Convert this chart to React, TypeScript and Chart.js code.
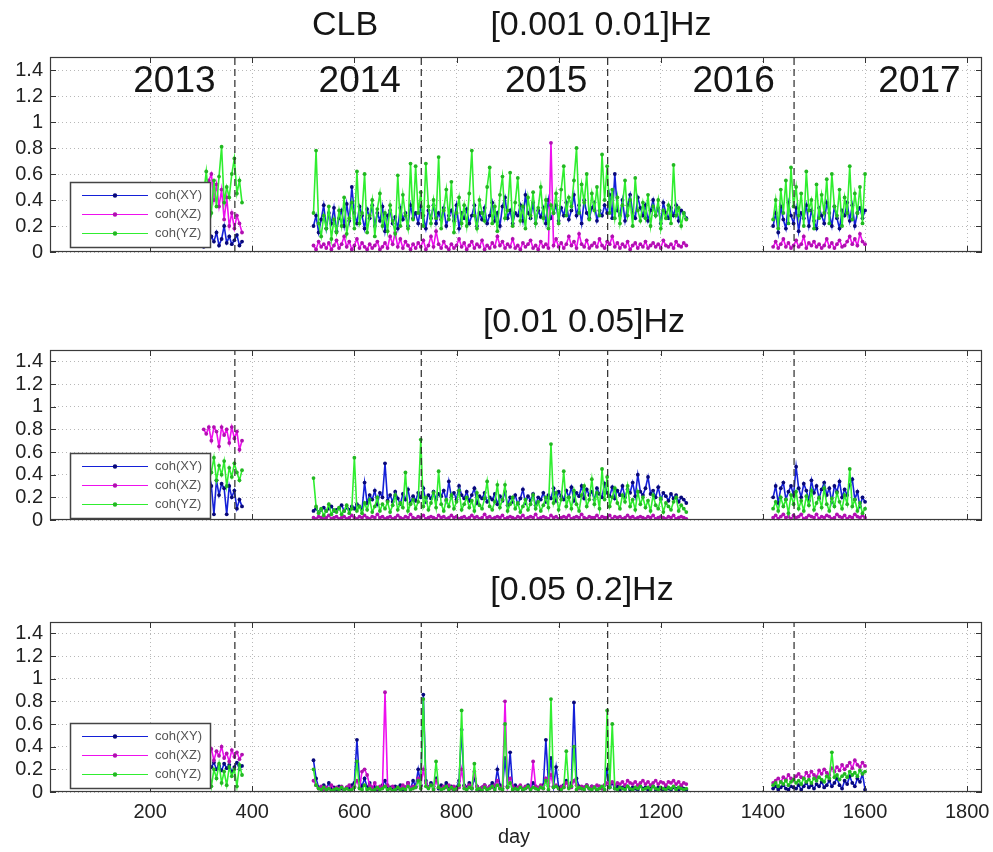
import React, { useEffect, useRef } from "react";
import { Chart, registerables } from "chart.js";
Chart.register(...registerables);

// ---------- axes ----------
const X_MIN = 4;
const X_MAX = 1829;
const Y_MIN = 0;
const Y_MAX = 1.5;
const xTicks = [200, 400, 600, 800, 1000, 1200, 1400, 1600, 1800];
const yTicks = [0, 0.2, 0.4, 0.6, 0.8, 1, 1.2, 1.4];
const yTickLabels = ["0", "0.2", "0.4", "0.6", "0.8", "1", "1.2", "1.4"];
const yearBoundaries = [366, 731, 1096, 1461];
const yearLabels = ["2013", "2014", "2015", "2016", "2017"];
const yearLabelDays = [167, 530, 895, 1262, 1626];
const seriesNames = ["coh(XY)", "coh(XZ)", "coh(YZ)"];
const panelTitles = [["CLB", "[0.001 0.01]Hz"], ["[0.01 0.05]Hz"], ["[0.05 0.2]Hz"]];
const xAxisLabel = "day";

// ---------- days of the three recording periods ----------
const daysA = [305, 310, 315, 320, 325, 330, 335, 340, 345, 350, 355, 360, 365, 370, 375, 380];
const daysB = [
  520, 525, 530, 535, 540, 545, 550, 555, 560, 565,
  570, 575, 580, 585, 590, 595, 600, 605, 610, 615,
  620, 625, 630, 635, 640, 645, 650, 655, 660, 665,
  670, 675, 680, 685, 690, 695, 700, 705, 710, 715,
  720, 725, 730, 735, 740, 745, 750, 755, 760, 765,
  770, 775, 780, 785, 790, 795, 800, 805, 810, 815,
  820, 825, 830, 835, 840, 845, 850, 855, 860, 865,
  870, 875, 880, 885, 890, 895, 900, 905, 910, 915,
  920, 925, 930, 935, 940, 945, 950, 955, 960, 965,
  970, 975, 980, 985, 990, 995, 1000, 1005, 1010, 1015,
  1020, 1025, 1030, 1035, 1040, 1045, 1050, 1055, 1060, 1065,
  1070, 1075, 1080, 1085, 1090, 1095, 1100, 1105, 1110, 1115,
  1120, 1125, 1130, 1135, 1140, 1145, 1150, 1155, 1160, 1165,
  1170, 1175, 1180, 1185, 1190, 1195, 1200, 1205, 1210, 1215,
  1220, 1225, 1230, 1235, 1240, 1245, 1250,
];
const daysC = [
  1420, 1425, 1430, 1435, 1440, 1445, 1450, 1455, 1460, 1465,
  1470, 1475, 1480, 1485, 1490, 1495, 1500, 1505, 1510, 1515,
  1520, 1525, 1530, 1535, 1540, 1545, 1550, 1555, 1560, 1565,
  1570, 1575, 1580, 1585, 1590, 1595, 1600,
];

// ---------- panel 1: [0.001 0.01] Hz ----------
const p1XY_A = [0.04, 0.10, 0.06, 0.12, 0.08, 0.15, 0.05, 0.10, 0.20, 0.07, 0.12, 0.06, 0.09, 0.13, 0.05, 0.08];
const p1XZ_A = [0.30, 0.45, 0.55, 0.60, 0.40, 0.52, 0.35, 0.48, 0.25, 0.42, 0.20, 0.30, 0.18, 0.28, 0.22, 0.15];
const p1YZ_A = [0.45, 0.62, 0.40, 0.30, 0.55, 0.35, 0.58, 0.81, 0.38, 0.50, 0.42, 0.60, 0.72, 0.45, 0.55, 0.38];
const p1XY_B = [
  0.20, 0.28, 0.15, 0.25, 0.36, 0.18, 0.30, 0.22, 0.34, 0.16,
  0.26, 0.32, 0.20, 0.37, 0.24, 0.50, 0.30, 0.22, 0.35, 0.28,
  0.18, 0.33, 0.26, 0.36, 0.20, 0.30, 0.24, 0.35, 0.16, 0.28,
  0.32, 0.22, 0.27, 0.18, 0.34, 0.25, 0.30, 0.20, 0.36, 0.26,
  0.30, 0.22, 0.35, 0.28, 0.18, 0.32, 0.26, 0.36, 0.22, 0.30,
  0.25, 0.34, 0.20, 0.28, 0.32, 0.24, 0.36, 0.18, 0.30, 0.26,
  0.33, 0.22, 0.28, 0.36, 0.20, 0.30, 0.25, 0.34, 0.22, 0.28,
  0.38, 0.24, 0.30, 0.20, 0.35, 0.42, 0.26, 0.32, 0.22, 0.30,
  0.28, 0.36, 0.24, 0.44, 0.30, 0.26, 0.38, 0.22, 0.32, 0.27,
  0.34, 0.22, 0.40, 0.26, 0.30, 0.36, 0.24, 0.34, 0.28, 0.38,
  0.25, 0.32, 0.44, 0.28, 0.36, 0.22, 0.40, 0.30, 0.26, 0.34,
  0.38, 0.24, 0.32, 0.28, 0.36, 0.30, 0.44, 0.26, 0.60, 0.32,
  0.28, 0.40, 0.24, 0.36, 0.44, 0.30, 0.26, 0.42, 0.34, 0.28,
  0.36, 0.24, 0.32, 0.40, 0.28, 0.34, 0.22, 0.38, 0.30, 0.26,
  0.34, 0.28, 0.36, 0.24, 0.32, 0.30, 0.26,
];
const p1XZ_B = [
  0.05, 0.02, 0.08, 0.04, 0.06, 0.03, 0.07, 0.02, 0.05, 0.09,
  0.03, 0.06, 0.12, 0.04, 0.08, 0.02, 0.05, 0.10, 0.03, 0.07,
  0.04, 0.02, 0.06, 0.03, 0.05, 0.08, 0.02, 0.04, 0.07, 0.03,
  0.12, 0.06, 0.15, 0.04, 0.10, 0.03, 0.08, 0.05, 0.02, 0.06,
  0.03, 0.07, 0.04, 0.09, 0.02, 0.05, 0.12, 0.04, 0.16, 0.06,
  0.03, 0.08, 0.04, 0.02, 0.06, 0.03, 0.05, 0.10, 0.04, 0.07,
  0.02, 0.05, 0.08, 0.03, 0.06, 0.04, 0.09, 0.02, 0.05, 0.03,
  0.07, 0.04, 0.12, 0.05, 0.08, 0.03, 0.06, 0.04, 0.10, 0.03,
  0.05, 0.02, 0.07, 0.04, 0.06, 0.09, 0.03, 0.05, 0.02, 0.08,
  0.04, 0.06, 0.03, 0.84, 0.05, 0.10, 0.04, 0.07, 0.03, 0.06,
  0.12, 0.05, 0.08, 0.03, 0.14, 0.06, 0.04, 0.09, 0.03, 0.05,
  0.07, 0.04, 0.10, 0.05, 0.03, 0.08, 0.06, 0.12, 0.04, 0.07,
  0.03, 0.06, 0.04, 0.08, 0.02, 0.05, 0.07, 0.03, 0.06, 0.04,
  0.08, 0.03, 0.05, 0.07, 0.04, 0.06, 0.03, 0.09, 0.05, 0.04,
  0.06, 0.03, 0.08, 0.05, 0.04, 0.07, 0.05,
];
const p1YZ_B = [
  0.30, 0.78, 0.22, 0.12, 0.28, 0.18, 0.35, 0.10, 0.25, 0.15,
  0.32, 0.20, 0.42, 0.14, 0.26, 0.38, 0.18, 0.62, 0.22, 0.30,
  0.60, 0.15, 0.28, 0.40, 0.12, 0.33, 0.45, 0.20, 0.30, 0.16,
  0.36, 0.24, 0.14, 0.59, 0.20, 0.44, 0.28, 0.18, 0.68, 0.25,
  0.66, 0.30, 0.46, 0.20, 0.68, 0.35, 0.22, 0.40, 0.26, 0.73,
  0.18, 0.32, 0.48, 0.25, 0.54, 0.15, 0.30, 0.42, 0.22, 0.36,
  0.20, 0.45, 0.78, 0.28, 0.18, 0.40, 0.30, 0.24, 0.50, 0.65,
  0.22, 0.35, 0.16, 0.44, 0.58, 0.26, 0.32, 0.61, 0.20, 0.38,
  0.57, 0.24, 0.35, 0.18, 0.42, 0.28, 0.46, 0.22, 0.34, 0.50,
  0.26, 0.40, 0.18, 0.36, 0.30, 0.45, 0.22, 0.48, 0.66, 0.28,
  0.42, 0.35, 0.55, 0.80, 0.30, 0.52, 0.38, 0.60, 0.25, 0.45,
  0.32, 0.50, 0.28, 0.75, 0.40, 0.66, 0.30, 0.48, 0.26, 0.42,
  0.22, 0.36, 0.55, 0.28, 0.40, 0.20, 0.57, 0.32, 0.24, 0.38,
  0.26, 0.44, 0.20, 0.35, 0.28, 0.40, 0.18, 0.32, 0.26, 0.36,
  0.22, 0.67, 0.28, 0.34, 0.20, 0.30, 0.25,
];
const p1XY_C = [
  0.20, 0.30, 0.15, 0.35, 0.25, 0.18, 0.38, 0.28, 0.22, 0.34,
  0.16, 0.30, 0.26, 0.36, 0.20, 0.32, 0.24, 0.18, 0.34, 0.28,
  0.22, 0.38, 0.30, 0.20, 0.35, 0.26, 0.18, 0.32, 0.28, 0.38,
  0.24, 0.36, 0.20, 0.30, 0.34, 0.26, 0.32,
];
const p1XZ_C = [
  0.04, 0.08, 0.03, 0.06, 0.10, 0.04, 0.07, 0.03, 0.05, 0.09,
  0.04, 0.06, 0.12, 0.03, 0.07, 0.05, 0.08, 0.04, 0.06, 0.03,
  0.05, 0.10, 0.04, 0.07, 0.03, 0.06, 0.09, 0.04, 0.05, 0.08,
  0.12, 0.06, 0.10, 0.05, 0.14, 0.08, 0.06,
];
const p1YZ_C = [
  0.25, 0.40, 0.18, 0.48, 0.30, 0.55, 0.22, 0.65, 0.35, 0.50,
  0.28, 0.45, 0.20, 0.62, 0.32, 0.40, 0.18, 0.52, 0.26, 0.44,
  0.30, 0.56, 0.22, 0.60, 0.35, 0.28, 0.48, 0.20, 0.42, 0.30,
  0.66, 0.25, 0.45, 0.30, 0.50, 0.22, 0.60,
];

// ---------- panel 2: [0.01 0.05] Hz ----------
const p2XY_A = [0.05, 0.25, 0.18, 0.30, 0.05, 0.35, 0.22, 0.32, 0.28, 0.05, 0.30, 0.20, 0.26, 0.10, 0.18, 0.12];
const p2XZ_A = [0.80, 0.76, 0.82, 0.70, 0.82, 0.78, 0.65, 0.82, 0.75, 0.80, 0.68, 0.82, 0.72, 0.78, 0.62, 0.70];
const p2YZ_A = [0.45, 0.38, 0.50, 0.42, 0.55, 0.35, 0.48, 0.40, 0.52, 0.30, 0.46, 0.38, 0.50, 0.42, 0.35, 0.44];
const p2XY_B = [
  0.08, 0.10, 0.07, 0.09, 0.11, 0.08, 0.10, 0.12, 0.08, 0.09,
  0.10, 0.13, 0.08, 0.11, 0.09, 0.12, 0.10, 0.14, 0.12, 0.09,
  0.33, 0.15, 0.22, 0.18, 0.26, 0.14, 0.24, 0.20, 0.50, 0.17,
  0.22, 0.16, 0.25, 0.19, 0.14, 0.23, 0.18, 0.27, 0.15, 0.21,
  0.17, 0.24, 0.20, 0.28, 0.16, 0.22, 0.19, 0.25, 0.18, 0.23,
  0.21, 0.26, 0.17, 0.34, 0.20, 0.24, 0.18, 0.30, 0.22, 0.19,
  0.25, 0.17, 0.22, 0.28, 0.15, 0.21, 0.19, 0.24, 0.16, 0.20,
  0.18, 0.23, 0.14, 0.21, 0.17, 0.25, 0.13, 0.20, 0.16, 0.22,
  0.14, 0.19, 0.27, 0.15, 0.21, 0.17, 0.23, 0.13, 0.20, 0.18,
  0.24, 0.16, 0.22, 0.19, 0.28, 0.17, 0.25, 0.21, 0.18, 0.26,
  0.20, 0.29, 0.17, 0.24, 0.21, 0.30, 0.19, 0.27, 0.22, 0.25,
  0.18, 0.28, 0.23, 0.20, 0.32, 0.24, 0.21, 0.29, 0.19, 0.26,
  0.22, 0.30, 0.20, 0.27, 0.24, 0.33, 0.21, 0.40, 0.25, 0.22,
  0.28, 0.38, 0.23, 0.26, 0.20, 0.29, 0.18, 0.24, 0.21, 0.17,
  0.23, 0.19, 0.22, 0.16, 0.20, 0.18, 0.15,
];
const p2XZ_B = [
  0.02, 0.01, 0.03, 0.02, 0.01, 0.02, 0.04, 0.01, 0.02, 0.03,
  0.01, 0.02, 0.03, 0.01, 0.02, 0.04, 0.02, 0.01, 0.03, 0.02,
  0.04, 0.02, 0.01, 0.03, 0.02, 0.05, 0.02, 0.03, 0.01, 0.02,
  0.03, 0.01, 0.02, 0.04, 0.02, 0.01, 0.03, 0.02, 0.05, 0.02,
  0.01, 0.03, 0.02, 0.04, 0.01, 0.02, 0.03, 0.02, 0.01, 0.04,
  0.02, 0.03, 0.01, 0.02, 0.04, 0.02, 0.03, 0.01, 0.02, 0.03,
  0.01, 0.02, 0.04, 0.02, 0.03, 0.01, 0.02, 0.05, 0.02, 0.03,
  0.01, 0.02, 0.03, 0.02, 0.04, 0.01, 0.02, 0.03, 0.02, 0.01,
  0.03, 0.02, 0.04, 0.01, 0.02, 0.03, 0.02, 0.05, 0.01, 0.02,
  0.03, 0.02, 0.01, 0.04, 0.02, 0.03, 0.01, 0.02, 0.03, 0.02,
  0.04, 0.01, 0.02, 0.03, 0.02, 0.05, 0.02, 0.01, 0.03, 0.02,
  0.02, 0.04, 0.01, 0.03, 0.02, 0.02, 0.04, 0.01, 0.03, 0.02,
  0.03, 0.01, 0.02, 0.04, 0.02, 0.03, 0.01, 0.02, 0.03, 0.02,
  0.01, 0.03, 0.02, 0.04, 0.01, 0.02, 0.03, 0.02, 0.01, 0.03,
  0.02, 0.04, 0.01, 0.02, 0.03, 0.02, 0.01,
];
const p2YZ_B = [
  0.37, 0.12, 0.06, 0.10, 0.04, 0.08, 0.14, 0.05, 0.09, 0.07,
  0.11, 0.05, 0.08, 0.13, 0.06, 0.10, 0.55, 0.08, 0.12, 0.06,
  0.15, 0.09, 0.18, 0.07, 0.12, 0.20, 0.08, 0.14, 0.10, 0.16,
  0.07, 0.13, 0.22, 0.09, 0.15, 0.11, 0.42, 0.08, 0.14, 0.18,
  0.10, 0.16, 0.71, 0.12, 0.20, 0.09, 0.15, 0.24, 0.11, 0.43,
  0.14, 0.08, 0.18, 0.12, 0.22, 0.10, 0.16, 0.26, 0.09, 0.14,
  0.20, 0.11, 0.17, 0.08, 0.24, 0.13, 0.10, 0.19, 0.34, 0.12,
  0.09, 0.16, 0.31, 0.11, 0.18, 0.31, 0.08, 0.14, 0.20, 0.10,
  0.15, 0.07, 0.12, 0.18, 0.09, 0.14, 0.22, 0.10, 0.16, 0.08,
  0.13, 0.20, 0.11, 0.67, 0.15, 0.24, 0.09, 0.18, 0.43, 0.12,
  0.20, 0.10, 0.26, 0.14, 0.08, 0.22, 0.30, 0.12, 0.18, 0.36,
  0.14, 0.24, 0.10, 0.45, 0.18, 0.38, 0.12, 0.20, 0.28, 0.15,
  0.10, 0.22, 0.16, 0.30, 0.12, 0.18, 0.09, 0.25, 0.14, 0.20,
  0.11, 0.17, 0.08, 0.22, 0.13, 0.10, 0.19, 0.07, 0.15, 0.12,
  0.09, 0.16, 0.20, 0.08, 0.13, 0.10, 0.07,
];
const p2XY_C = [
  0.20, 0.30, 0.15, 0.28, 0.33, 0.18, 0.25, 0.30, 0.22, 0.47,
  0.28, 0.20, 0.32, 0.26, 0.17, 0.35, 0.24, 0.30, 0.19, 0.27,
  0.33, 0.22, 0.28, 0.16, 0.30, 0.25, 0.34, 0.20, 0.27, 0.22,
  0.31, 0.36, 0.18, 0.25, 0.12, 0.20, 0.16,
];
const p2XZ_C = [
  0.02, 0.04, 0.01, 0.03, 0.05, 0.02, 0.03, 0.01, 0.04, 0.02,
  0.03, 0.05, 0.01, 0.02, 0.04, 0.03, 0.02, 0.05, 0.01, 0.03,
  0.02, 0.04, 0.03, 0.01, 0.02, 0.05, 0.03, 0.02, 0.04, 0.01,
  0.03, 0.02, 0.05, 0.03, 0.02, 0.04, 0.02,
];
const p2YZ_C = [
  0.10, 0.16, 0.08, 0.20, 0.12, 0.18, 0.06, 0.22, 0.14, 0.25,
  0.10, 0.17, 0.08, 0.21, 0.13, 0.26, 0.09, 0.15, 0.20, 0.11,
  0.28, 0.14, 0.08, 0.19, 0.12, 0.24, 0.16, 0.10, 0.22, 0.14,
  0.45, 0.12, 0.18, 0.08, 0.15, 0.06, 0.10,
];

// ---------- panel 3: [0.05 0.2] Hz ----------
const p3XY_A = [0.20, 0.24, 0.18, 0.22, 0.26, 0.20, 0.23, 0.19, 0.25, 0.21, 0.24, 0.18, 0.22, 0.26, 0.20, 0.23];
const p3XZ_A = [0.42, 0.35, 0.30, 0.38, 0.28, 0.36, 0.32, 0.40, 0.30, 0.34, 0.27, 0.37, 0.31, 0.35, 0.29, 0.33];
const p3YZ_A = [0.18, 0.10, 0.22, 0.05, 0.20, 0.12, 0.25, 0.08, 0.18, 0.06, 0.22, 0.14, 0.20, 0.05, 0.24, 0.15];
const p3XY_B = [
  0.28, 0.12, 0.04, 0.03, 0.06, 0.02, 0.08, 0.03, 0.04, 0.02,
  0.05, 0.03, 0.02, 0.04, 0.03, 0.06, 0.08, 0.46, 0.10, 0.05,
  0.12, 0.04, 0.08, 0.03, 0.05, 0.02, 0.04, 0.06, 0.10, 0.03,
  0.04, 0.02, 0.05, 0.03, 0.06, 0.02, 0.04, 0.08, 0.03, 0.10,
  0.05, 0.20, 0.06, 0.86, 0.10, 0.04, 0.08, 0.05, 0.12, 0.03,
  0.06, 0.04, 0.08, 0.03, 0.05, 0.02, 0.04, 0.10, 0.55, 0.06,
  0.04, 0.08, 0.03, 0.12, 0.05, 0.02, 0.04, 0.06, 0.03, 0.05,
  0.08, 0.04, 0.20, 0.06, 0.03, 0.30, 0.05, 0.35, 0.04, 0.06,
  0.03, 0.05, 0.02, 0.04, 0.06, 0.03, 0.08, 0.05, 0.03, 0.04,
  0.06, 0.46, 0.08, 0.30, 0.05, 0.22, 0.04, 0.03, 0.06, 0.10,
  0.04, 0.08, 0.79, 0.12, 0.05, 0.03, 0.04, 0.06, 0.03, 0.05,
  0.04, 0.02, 0.05, 0.03, 0.06, 0.20, 0.04, 0.08, 0.03, 0.05,
  0.02, 0.04, 0.03, 0.05, 0.02, 0.04, 0.03, 0.02, 0.05, 0.03,
  0.04, 0.02, 0.03, 0.05, 0.02, 0.04, 0.03, 0.02, 0.04, 0.03,
  0.02, 0.04, 0.03, 0.02, 0.05, 0.03, 0.02,
];
const p3XZ_B = [
  0.10, 0.06, 0.03, 0.05, 0.02, 0.04, 0.03, 0.06, 0.02, 0.04,
  0.03, 0.05, 0.02, 0.04, 0.06, 0.03, 0.05, 0.10, 0.04, 0.18,
  0.20, 0.15, 0.06, 0.04, 0.08, 0.03, 0.05, 0.04, 0.88, 0.06,
  0.03, 0.05, 0.02, 0.04, 0.03, 0.06, 0.04, 0.08, 0.03, 0.05,
  0.04, 0.12, 0.05, 0.20, 0.08, 0.04, 0.06, 0.03, 0.10, 0.04,
  0.03, 0.05, 0.04, 0.06, 0.03, 0.05, 0.02, 0.04, 0.20, 0.05,
  0.03, 0.06, 0.04, 0.18, 0.05, 0.03, 0.04, 0.06, 0.03, 0.05,
  0.04, 0.06, 0.10, 0.03, 0.05, 0.80, 0.04, 0.12, 0.05, 0.03,
  0.04, 0.06, 0.03, 0.05, 0.04, 0.03, 0.27, 0.05, 0.04, 0.06,
  0.03, 0.12, 0.05, 0.15, 0.04, 0.06, 0.03, 0.05, 0.04, 0.08,
  0.05, 0.04, 0.10, 0.06, 0.03, 0.05, 0.04, 0.06, 0.03, 0.05,
  0.04, 0.06, 0.05, 0.03, 0.06, 0.08, 0.07, 0.09, 0.06, 0.08,
  0.07, 0.09, 0.06, 0.10, 0.08, 0.07, 0.09, 0.06, 0.08, 0.10,
  0.07, 0.09, 0.06, 0.08, 0.10, 0.07, 0.09, 0.08, 0.06, 0.09,
  0.08, 0.10, 0.07, 0.09, 0.06, 0.08, 0.07,
];
const p3YZ_B = [
  0.20, 0.06, 0.03, 0.02, 0.04, 0.02, 0.03, 0.01, 0.02, 0.03,
  0.02, 0.04, 0.02, 0.03, 0.01, 0.02, 0.04, 0.27, 0.03, 0.02,
  0.06, 0.02, 0.03, 0.01, 0.02, 0.04, 0.02, 0.03, 0.05, 0.02,
  0.03, 0.01, 0.02, 0.04, 0.02, 0.03, 0.02, 0.05, 0.02, 0.03,
  0.04, 0.10, 0.03, 0.82, 0.05, 0.03, 0.06, 0.02, 0.27, 0.04,
  0.02, 0.03, 0.05, 0.02, 0.04, 0.02, 0.03, 0.06, 0.72, 0.03,
  0.02, 0.04, 0.03, 0.25, 0.02, 0.03, 0.01, 0.04, 0.02, 0.03,
  0.05, 0.02, 0.06, 0.03, 0.02, 0.60, 0.04, 0.08, 0.02, 0.03,
  0.02, 0.04, 0.02, 0.03, 0.05, 0.02, 0.04, 0.03, 0.02, 0.04,
  0.03, 0.10, 0.02, 0.82, 0.04, 0.05, 0.03, 0.02, 0.04, 0.36,
  0.03, 0.05, 0.40, 0.02, 0.04, 0.03, 0.02, 0.05, 0.03, 0.02,
  0.04, 0.02, 0.03, 0.05, 0.02, 0.72, 0.04, 0.60, 0.03, 0.02,
  0.04, 0.03, 0.02, 0.05, 0.03, 0.02, 0.04, 0.03, 0.05, 0.02,
  0.03, 0.04, 0.02, 0.05, 0.03, 0.02, 0.04, 0.03, 0.02, 0.04,
  0.03, 0.05, 0.02, 0.04, 0.03, 0.02, 0.03,
];
const p3XY_C = [
  0.03, 0.05, 0.02, 0.04, 0.06, 0.03, 0.02, 0.05, 0.04, 0.03,
  0.06, 0.02, 0.05, 0.08, 0.04, 0.06, 0.03, 0.07, 0.05, 0.09,
  0.04, 0.06, 0.10, 0.05, 0.08, 0.12, 0.06, 0.03, 0.10, 0.07,
  0.14, 0.08, 0.05, 0.12, 0.09, 0.16, 0.02,
];
const p3XZ_C = [
  0.08, 0.10, 0.12, 0.09, 0.13, 0.11, 0.15, 0.12, 0.10, 0.14,
  0.16, 0.13, 0.12, 0.17, 0.14, 0.18, 0.15, 0.13, 0.19, 0.16,
  0.20, 0.17, 0.15, 0.21, 0.18, 0.22, 0.19, 0.24, 0.20, 0.23,
  0.26, 0.21, 0.28, 0.24, 0.22, 0.26, 0.23,
];
const p3YZ_C = [
  0.06, 0.08, 0.05, 0.09, 0.07, 0.10, 0.06, 0.09, 0.11, 0.08,
  0.10, 0.07, 0.12, 0.09, 0.11, 0.08, 0.12, 0.10, 0.13, 0.11,
  0.09, 0.14, 0.12, 0.35, 0.13, 0.15, 0.11, 0.14, 0.16, 0.13,
  0.18, 0.15, 0.17, 0.14, 0.19, 0.16, 0.18,
];

// ---------- styling ----------
const FONT = '"Liberation Sans", Arial, Helvetica, sans-serif';
const lineColors = ["#1420d8", "#ee10ee", "#30ee30"];
const markerColors = ["#08087a", "#b010b0", "#22b822"];

type Seg = [number[], number[]];
function buildPoints(segs: Seg[]) {
  const pts: { x: number; y: number | null }[] = [];
  segs.forEach(([days, vals], s) => {
    days.forEach((d, i) => pts.push({ x: d, y: vals[i] ?? null }));
    if (s < segs.length - 1) pts.push({ x: days[days.length - 1] + 1, y: null });
  });
  return pts;
}

const panelSeries = [
  [
    [[daysA, p1XY_A], [daysB, p1XY_B], [daysC, p1XY_C]],
    [[daysA, p1XZ_A], [daysB, p1XZ_B], [daysC, p1XZ_C]],
    [[daysA, p1YZ_A], [daysB, p1YZ_B], [daysC, p1YZ_C]],
  ],
  [
    [[daysA, p2XY_A], [daysB, p2XY_B], [daysC, p2XY_C]],
    [[daysA, p2XZ_A], [daysB, p2XZ_B], [daysC, p2XZ_C]],
    [[daysA, p2YZ_A], [daysB, p2YZ_B], [daysC, p2YZ_C]],
  ],
  [
    [[daysA, p3XY_A], [daysB, p3XY_B], [daysC, p3XY_C]],
    [[daysA, p3XZ_A], [daysB, p3XZ_B], [daysC, p3XZ_C]],
    [[daysA, p3YZ_A], [daysB, p3YZ_B], [daysC, p3YZ_C]],
  ],
] as Seg[][][];

// layout of the three stacked axes (canvas pixels)
const layouts = [
  { top: 0, height: 290, areaTop: 57, axisH: 38, showX: false, titleX: [345, 601], titleY: 26, legendGap: 5 },
  { top: 290, height: 250, areaTop: 60, axisH: 20, showX: false, titleX: [584], titleY: 33, legendGap: 2 },
  { top: 540, height: 312, areaTop: 82, axisH: 60, showX: true, titleX: [582], titleY: 51, legendGap: 4 },
];

function makeDecor(p: number) {
  const L = layouts[p];
  return {
    id: "decor" + p,
    afterDraw(chart: any) {
      const { ctx, chartArea: a, scales } = chart;
      const x = scales.x;
      const y = scales.y;
      ctx.save();
      // inner tick marks
      ctx.strokeStyle = "#333";
      ctx.lineWidth = 1;
      ctx.setLineDash([]);
      ctx.beginPath();
      for (const v of xTicks) {
        const px = Math.round(x.getPixelForValue(v)) + 0.5;
        ctx.moveTo(px, a.bottom);
        ctx.lineTo(px, a.bottom - 6);
        ctx.moveTo(px, a.top);
        ctx.lineTo(px, a.top + 6);
      }
      for (const v of yTicks) {
        const py = Math.round(y.getPixelForValue(v)) + 0.5;
        ctx.moveTo(a.left, py);
        ctx.lineTo(a.left + 6, py);
        ctx.moveTo(a.right, py);
        ctx.lineTo(a.right - 6, py);
      }
      ctx.stroke();
      // box
      ctx.strokeStyle = "#3a3a3a";
      ctx.lineWidth = 1.2;
      ctx.strokeRect(a.left + 0.5, a.top + 0.5, a.right - a.left - 1, a.bottom - a.top - 1);

      // year labels
      if (p === 0) {
        ctx.fillStyle = "#151515";
        ctx.font = "37px " + FONT;
        ctx.textAlign = "left";
        ctx.textBaseline = "middle";
        yearLabels.forEach((t, i) => {
          ctx.fillText(t, x.getPixelForValue(yearLabelDays[i]), y.getPixelForValue(1.31));
        });
      }

      // legend box
      const bw = 140;
      const bh = 65;
      const bx = a.left + 20;
      const by = a.bottom - L.legendGap - bh;
      ctx.fillStyle = "#ffffff";
      ctx.fillRect(bx, by, bw, bh);
      ctx.strokeStyle = "#444";
      ctx.lineWidth = 1.5;
      ctx.strokeRect(bx + 0.5, by + 0.5, bw, bh);
      seriesNames.forEach((name, i) => {
        const ly = by + 13 + 19 * i + 0.5;
        ctx.strokeStyle = lineColors[i];
        ctx.lineWidth = 1;
        ctx.beginPath();
        ctx.moveTo(bx + 12, ly);
        ctx.lineTo(bx + 78, ly);
        ctx.stroke();
        ctx.fillStyle = markerColors[i];
        ctx.beginPath();
        ctx.arc(bx + 45, ly, 2.2, 0, Math.PI * 2);
        ctx.fill();
        ctx.fillStyle = "#555";
        ctx.font = "13px " + FONT;
        ctx.textAlign = "left";
        ctx.textBaseline = "middle";
        ctx.fillText(name, bx + 85, ly);
      });

      // titles
      ctx.fillStyle = "#151515";
      ctx.font = "34px " + FONT;
      ctx.textAlign = "center";
      ctx.textBaseline = "middle";
      panelTitles[p].forEach((t, i) => ctx.fillText(t, L.titleX[i], L.titleY));

      if (p === 2) {
        ctx.font = "20px " + FONT;
        ctx.fillStyle = "#222";
        ctx.fillText(xAxisLabel, 514, 297);
      }
      ctx.restore();
    },
  };
}

function makeConfig(p: number): any {
  const L = layouts[p];
  const series = panelSeries[p];
  const orders = [3, 2, 1];
  const datasets: any[] = series.map((segs, i) => ({
    label: seriesNames[i],
    data: buildPoints(segs),
    borderColor: lineColors[i],
    backgroundColor: lineColors[i],
    borderWidth: 1.6,
    pointRadius: 1.9,
    pointBackgroundColor: markerColors[i],
    pointBorderColor: markerColors[i],
    pointBorderWidth: 0,
    spanGaps: false,
    tension: 0,
    order: orders[i],
  }));
  const dashPts: { x: number; y: number | null }[] = [];
  yearBoundaries.forEach((d) => {
    dashPts.push({ x: d, y: Y_MIN }, { x: d, y: Y_MAX }, { x: d + 0.1, y: null });
  });
  datasets.push({
    label: "year",
    data: dashPts,
    borderColor: "#2a2a2a",
    borderWidth: 1.2,
    borderDash: [7, 4],
    pointRadius: 0,
    spanGaps: false,
    order: 0,
  });
  const gridColor = "#b8b8b8";
  return {
    type: "line",
    data: { datasets },
    options: {
      animation: false,
      responsive: false,
      maintainAspectRatio: false,
      devicePixelRatio: 1,
      parsing: true,
      layout: { padding: { top: L.areaTop, right: 11, left: 0, bottom: 0 } },
      plugins: { legend: { display: false }, tooltip: { enabled: false }, title: { display: false } },
      scales: {
        x: {
          type: "linear",
          min: X_MIN,
          max: X_MAX,
          afterBuildTicks: (s: any) => {
            s.ticks = xTicks.map((v) => ({ value: v }));
          },
          afterFit: (s: any) => {
            s.height = L.axisH;
            s.paddingLeft = 0;
            s.paddingRight = 0;
          },
          ticks: {
            display: L.showX,
            autoSkip: false,
            maxRotation: 0,
            padding: 8,
            color: "#222",
            font: { family: FONT, size: 20 },
            callback: (v: number) => String(v),
          },
          grid: { color: gridColor, lineWidth: 1, drawTicks: false },
          border: { display: false, dash: [1, 3] },
        },
        y: {
          min: Y_MIN,
          max: Y_MAX,
          afterBuildTicks: (s: any) => {
            s.ticks = yTicks.map((v) => ({ value: v }));
          },
          afterFit: (s: any) => {
            s.width = 50;
            s.paddingTop = 0;
            s.paddingBottom = 0;
          },
          ticks: {
            autoSkip: false,
            padding: 7,
            color: "#222",
            font: { family: FONT, size: 20 },
            callback: (_v: number, i: number) => yTickLabels[i],
          },
          grid: { color: gridColor, lineWidth: 1, drawTicks: false },
          border: { display: false, dash: [1, 3] },
        },
      },
    },
    plugins: [makeDecor(p)],
  };
}

export default function App() {
  const r0 = useRef<HTMLCanvasElement>(null);
  const r1 = useRef<HTMLCanvasElement>(null);
  const r2 = useRef<HTMLCanvasElement>(null);
  useEffect(() => {
    const refs = [r0, r1, r2];
    const charts = refs.map((r, p) => new Chart(r.current as HTMLCanvasElement, makeConfig(p)));
    return () => charts.forEach((c) => c.destroy());
  }, []);
  const refs = [r0, r1, r2];
  return (
    <div style={{ position: "absolute", left: 0, top: 0, width: 993, height: 852, background: "#fff" }}>
      {layouts.map((L, p) => (
        <canvas
          key={p}
          ref={refs[p]}
          width={993}
          height={L.height}
          style={{ position: "absolute", left: 0, top: L.top, width: 993, height: L.height }}
        />
      ))}
    </div>
  );
}
